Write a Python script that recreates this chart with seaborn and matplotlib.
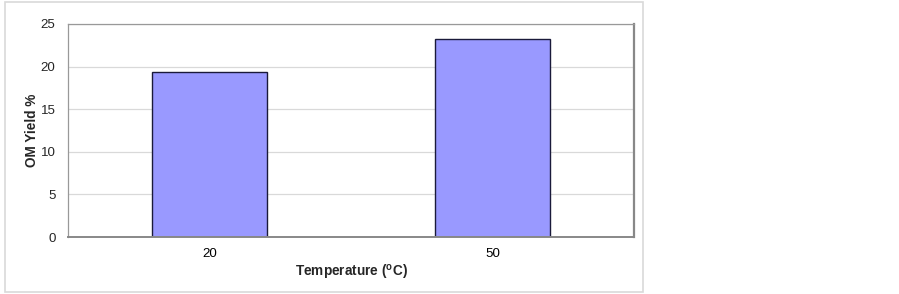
import numpy as np
import pandas as pd
import seaborn as sns
import matplotlib.pyplot as plt
from matplotlib.patches import Rectangle

# data
temps = ["20", "50"]
om_yield = [19.4, 23.2]

df = pd.DataFrame({"Temperature": temps, "Yield": om_yield})

sns.set_style("white")
plt.rcParams['font.family'] = ['Liberation Sans', 'DejaVu Sans']
plt.rcParams['mathtext.fontset'] = 'custom'
plt.rcParams['mathtext.bf'] = 'Liberation Sans:bold'
plt.rcParams['mathtext.rm'] = 'Liberation Sans'

W, H = 899, 294
fig = plt.figure(figsize=(W / 100, H / 100), dpi=100)

# outer chart border
fig.patches.append(Rectangle((5 / W, 1 - 292 / H), 638 / W, 290 / H,
                             transform=fig.transFigure, fill=False,
                             edgecolor='#d9d9d9', linewidth=1.2))

ax = fig.add_axes([68 / W, 1 - 237 / H, 566 / W, 213 / H])

sns.barplot(data=df, x="Temperature", y="Yield", ax=ax, width=0.405,
            color='#9999ff', edgecolor='#1a1a3a', linewidth=1.0, saturation=1)

ax.set_xlim(-0.5, 1.5)
ax.set_ylim(0, 25)
ax.set_yticks(range(0, 26, 5))
ax.yaxis.grid(True, color='#d9d9d9', linewidth=0.9)
ax.set_axisbelow(True)

# category boundaries get the tick marks
ax.set_xticks([-0.5, 0.5, 1.5], minor=True)
ax.tick_params(axis='x', which='major', length=0, pad=8, labelsize=9.6, colors='#000000')
ax.tick_params(axis='x', which='minor', length=4, color='#999999', width=0.8)
ax.tick_params(axis='y', length=3, color='#999999', width=0.8, labelsize=9.6, pad=6)

for side in ['left', 'top']:
    ax.spines[side].set_color('#999999')
    ax.spines[side].set_linewidth(0.9)
ax.spines['right'].set_color('#888888')
ax.spines['right'].set_linewidth(1.6)
ax.spines['bottom'].set_color('#888888')
ax.spines['bottom'].set_linewidth(1.4)

ax.set_ylabel('OM Yield %', fontsize=9.8, fontweight='bold', labelpad=1)
ax.set_xlabel(r'Temperature ($\mathbf{^{o}}$C)', fontsize=9.8, fontweight='bold', labelpad=2)

fig.savefig('out.png', dpi=100, facecolor='white')
